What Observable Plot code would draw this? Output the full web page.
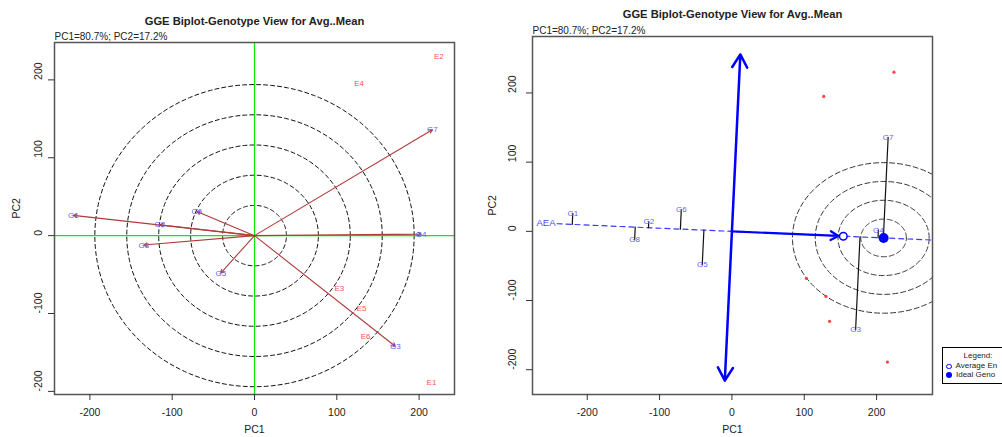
<!DOCTYPE html>
<html><head><meta charset="utf-8">
<script src="https://cdn.jsdelivr.net/npm/d3@7"></script>
<script src="https://cdn.jsdelivr.net/npm/@observablehq/plot@0.6"></script>
<style>
html,body{margin:0;padding:0;background:#fff;overflow:hidden;width:1002px;height:437px;}
#wrap{position:relative;width:1002px;height:437px;overflow:hidden;}
#left{position:absolute;left:0;top:0;}
#right{position:absolute;left:470px;top:0;}
#legend{position:absolute;left:942px;top:347px;width:74px;height:35px;border:1px solid #000;background:#fff;
  font-family:"Liberation Sans",Arial,sans-serif;font-size:8px;color:#222;white-space:nowrap;}
#legend .t{position:absolute;left:0;width:70px;top:3px;text-align:center;}
#legend .r{position:absolute;left:3px;}
#legend .sym{display:inline-block;width:5px;height:5px;border-radius:50%;margin-right:4px;vertical-align:-1px;}
</style></head>
<body><div id="wrap"><div id="left"></div><div id="right"></div>
<div id="legend"><div class="t">Legend:</div>
<div class="r" style="top:13px"><span class="sym" style="border:1.3px solid #0000ff;width:3.5px;height:3.5px"></span>Average En</div>
<div class="r" style="top:22px"><span class="sym" style="background:#0000ff;width:6px;height:6px;"></span>Ideal Geno</div>
</div></div>
<script>
const genotypes = ["G1","G2","G3","G4","G5","G6","G7","G8"];
const genoPC1 = [-220,-115,171,202.5,-41,-70,216,-134.5];
const genoPC2 = [26,14,-142,2,-48,31,136,-12];
const environments = ["E1","E2","E3","E4","E5","E6"];
const envPC1 = [215,224,103,127,130,135];
const envPC2 = [-189,230,-68,195,-94,-130];
const avgEnv = [154,-7];
const idealGeno = [209.7,-9.5];
const xTicks = [-200,-100,0,100,200];
const yTicks = [-200,-100,0,100,200];
const titleText = "GGE Biplot-Genotype View for Avg..Mean";
const subtitleText = "PC1=80.7%; PC2=17.2%";
const leftRadii = [38.8,77.6,116.4,155.2,194];
const rightRadiiX = [31.5,63,94.5,126];
const rightRadiiY = [27.2,54.4,81.6,108.8];
const aeaExtent = [-242, 285];
const atcExtent = [-216, 256];

const font = '"Liberation Sans", Arial, sans-serif';
const geno = genotypes.map((g,i)=>({g, x:genoPC1[i], y:genoPC2[i]}));
const envs = environments.map((e,i)=>({e, x:envPC1[i], y:envPC2[i]}));

function ring(cx, cy, rx, ry, id){
  return d3.range(0, 361, 2).map(a => ({x: cx + rx*Math.cos(a*Math.PI/180), y: cy + ry*Math.sin(a*Math.PI/180), id}));
}
function common(opts){
  return [
    Plot.frame({stroke:"#555", strokeWidth:1.5}),
    Plot.axisX({ticks:xTicks, tickSize:6, tickPadding:8, tickFormat:d=>String(d), label:null, fontSize:10.5, stroke:"#333"}),
    Plot.axisY({ticks:yTicks, tickSize:6, tickFormat:()=>"", label:null, stroke:"#333"}),
    Plot.text(yTicks, {y:d=>d, text:d=>String(d), frameAnchor:"left", dx:opts.ytdx, rotate:-90, fontSize:10.5, fill:"#222"}),
    Plot.text(["PC1"], {frameAnchor:"bottom", lineAnchor:"middle", dy:35, fontSize:10.5, fill:"#222"}),
    Plot.text(["PC2"], {frameAnchor:"left", lineAnchor:"middle", dx:opts.pc2dx, rotate:-90, fontSize:10.5, fill:"#222"}),
    Plot.text([titleText], {frameAnchor:"top", lineAnchor:"middle", dy:opts.tdy, fontSize:11.2, fontWeight:"bold", fill:"#222"}),
    Plot.text([subtitleText], {frameAnchor:"top-left", lineAnchor:"middle", textAnchor:"start", dy:-6, fontSize:10, fill:"#222"})
  ];
}

// LEFT PANEL
const leftRings = leftRadii.flatMap((r,i)=>ring(0,0,r,r,i));
const left = Plot.plot({
  width:470, height:437, marginLeft:54, marginRight:16, marginTop:42, marginBottom:43,
  style:{fontFamily:font, background:"white", color:"#222", overflow:"visible"},
  x:{domain:[-243,243]}, y:{domain:[-204,248]},
  marks:[
    Plot.line(leftRings, {x:"x", y:"y", z:"id", stroke:"#111", strokeWidth:1, strokeDasharray:"4,3"}),
    Plot.ruleX([0], {stroke:"#00ee00", strokeWidth:1.2}),
    Plot.ruleY([0], {stroke:"#00ee00", strokeWidth:1.2}),
    Plot.arrow(geno, {x1:()=>0, y1:()=>0, x2:"x", y2:"y", stroke:"#b03a3a", strokeWidth:1.1, headLength:5}),
    Plot.text(geno, {x:"x", y:"y", text:"g", fill:"#6060ff", fontSize:8}),
    Plot.text(envs, {x:"x", y:"y", text:"e", fill:"#ff4f4f", fontSize:8}),
    ...common({ytdx:-16, pc2dx:-37.5, tdy:-21.5})
  ]
});
document.getElementById("left").appendChild(left);

// RIGHT PANEL
const len = Math.hypot(avgEnv[0], avgEnv[1]);
const dir = [avgEnv[0]/len, avgEnv[1]/len];
const perp = [-dir[1], dir[0]];
const aeaLine = aeaExtent.map(t=>({x:t*dir[0], y:t*dir[1]}));
const proj = geno.flatMap(d=>{
  const t = d.x*dir[0] + d.y*dir[1];
  return [{g:d.g, x:d.x, y:d.y}, {g:d.g, x:t*dir[0], y:t*dir[1]}];
});
const atc = atcExtent.map(t=>({x:t*perp[0], y:t*perp[1]}));
const rightRings = rightRadiiX.flatMap((r,i)=>ring(idealGeno[0], idealGeno[1], r, rightRadiiY[i], i));
const right = Plot.plot({
  width:532, height:437, marginLeft:62, marginRight:70, marginTop:36, marginBottom:43,
  style:{fontFamily:font, background:"white", color:"#222", overflow:"visible"},
  x:{domain:[-275.7,277.3]}, y:{domain:[-235.8,281.6]},
  marks:[
    Plot.line(rightRings, {x:"x", y:"y", z:"id", stroke:"#333", strokeWidth:1, strokeDasharray:"5,3", clip:true}),
    Plot.line(aeaLine, {x:"x", y:"y", stroke:"#3a3aff", strokeWidth:1.2, strokeDasharray:"5,4", clip:true}),
    Plot.line(proj, {x:"x", y:"y", z:"g", stroke:"#111", strokeWidth:1.2}),
    Plot.arrow(atc, {x1:()=>0, y1:()=>0, x2:"x", y2:"y", stroke:"#0000ff", strokeWidth:2.5, headLength:9, headAngle:60}),
    Plot.arrow([avgEnv], {x1:()=>0, y1:()=>0, x2:d=>d[0], y2:d=>d[1], stroke:"#0000ff", strokeWidth:2.2, headLength:6, insetEnd:5}),
    Plot.dot([avgEnv], {x:d=>d[0], y:d=>d[1], r:3.8, stroke:"#0000ff", strokeWidth:1.5, fill:"white"}),
    Plot.dot([idealGeno], {x:d=>d[0], y:d=>d[1], r:5, fill:"#0000ff"}),
    Plot.dot(envs, {x:"x", y:"y", r:1.6, fill:"#ff4040"}),
    Plot.text(geno, {x:"x", y:"y", text:"g", fill:"#6060ff", fontSize:8}),
    Plot.text(["AEA"], {x:()=>-257, y:()=>11.5, fill:"#4a4aff", fontSize:9.5}),
    ...common({ytdx:-20, pc2dx:-40, tdy:-22})
  ]
});
document.getElementById("right").appendChild(right);
</script>
</body></html>
